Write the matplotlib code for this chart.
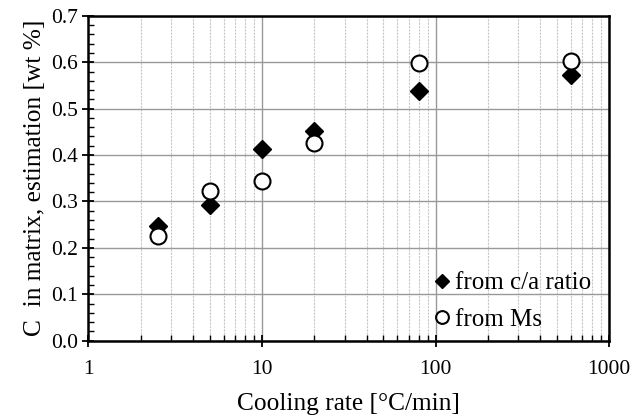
import matplotlib
matplotlib.use("Agg")
import matplotlib.pyplot as plt
from matplotlib.ticker import LogLocator, NullFormatter, MultipleLocator, FixedLocator, FixedFormatter

plt.rcParams['font.family'] = ['Liberation Serif', 'DejaVu Serif']

cooling_rate = [2.5, 5, 10, 20, 80, 600]
c_from_ca = [0.248, 0.293, 0.413, 0.451, 0.539, 0.572]
c_from_ms = [0.225, 0.323, 0.344, 0.426, 0.598, 0.602]
x_ticks = [1, 10, 100, 1000]
x_labels = ['1', '10', '100', '1000']

fig = plt.figure(figsize=(6.32, 4.16), dpi=100)
ax = fig.add_axes([0.140, 0.181, 0.824, 0.781])

ax.set_xscale('log')
ax.set_xlim(1, 1000)
ax.set_ylim(0, 0.7)

ax.xaxis.set_major_locator(FixedLocator(x_ticks))
ax.xaxis.set_major_formatter(FixedFormatter(x_labels))
ax.xaxis.set_minor_locator(LogLocator(base=10, subs=range(2, 10)))
ax.xaxis.set_minor_formatter(NullFormatter())
ax.yaxis.set_major_locator(MultipleLocator(0.1))
ax.yaxis.set_minor_locator(MultipleLocator(0.02))
ax.yaxis.set_major_formatter(plt.FuncFormatter(lambda v, p: f"{v:.1f}"))

ax.grid(which='major', axis='both', color='#999999', linewidth=1.0)
ax.grid(which='minor', axis='x', color='#c8c8c8', linewidth=0.8, linestyle=(0, (2, 1)))
ax.set_axisbelow(True)

for s in ax.spines.values():
    s.set_linewidth(1.8)
    s.set_color('black')

ax.tick_params(which='major', direction='inout', length=8, width=1.3, labelsize=15.5,
               top=False, right=False)
ax.tick_params(which='minor', direction='in', length=4, width=1.0, top=False, right=False)
ax.tick_params(axis='x', which='major', pad=10)

ax.plot(cooling_rate, c_from_ca, linestyle='none', marker='D', markersize=9,
        color='black', label='from c/a ratio')
ax.plot(cooling_rate, c_from_ms, linestyle='none', marker='o', markersize=11.5,
        markerfacecolor='white', markeredgecolor='black', markeredgewidth=1.5,
        label='from Ms')

ax.set_xlabel('Cooling rate [°C/min]', fontsize=18.3, labelpad=10)
ax.set_ylabel('C  in matrix, estimation [wt %]', fontsize=18.3, labelpad=4)

leg = ax.legend(loc='lower right', frameon=False, fontsize=18, handlelength=0.7,
                handletextpad=0.2, borderaxespad=0.0, labelspacing=0.55,
                markerscale=0.8, bbox_to_anchor=(0.985, 0.0))

fig.savefig('out.png', dpi=100)
